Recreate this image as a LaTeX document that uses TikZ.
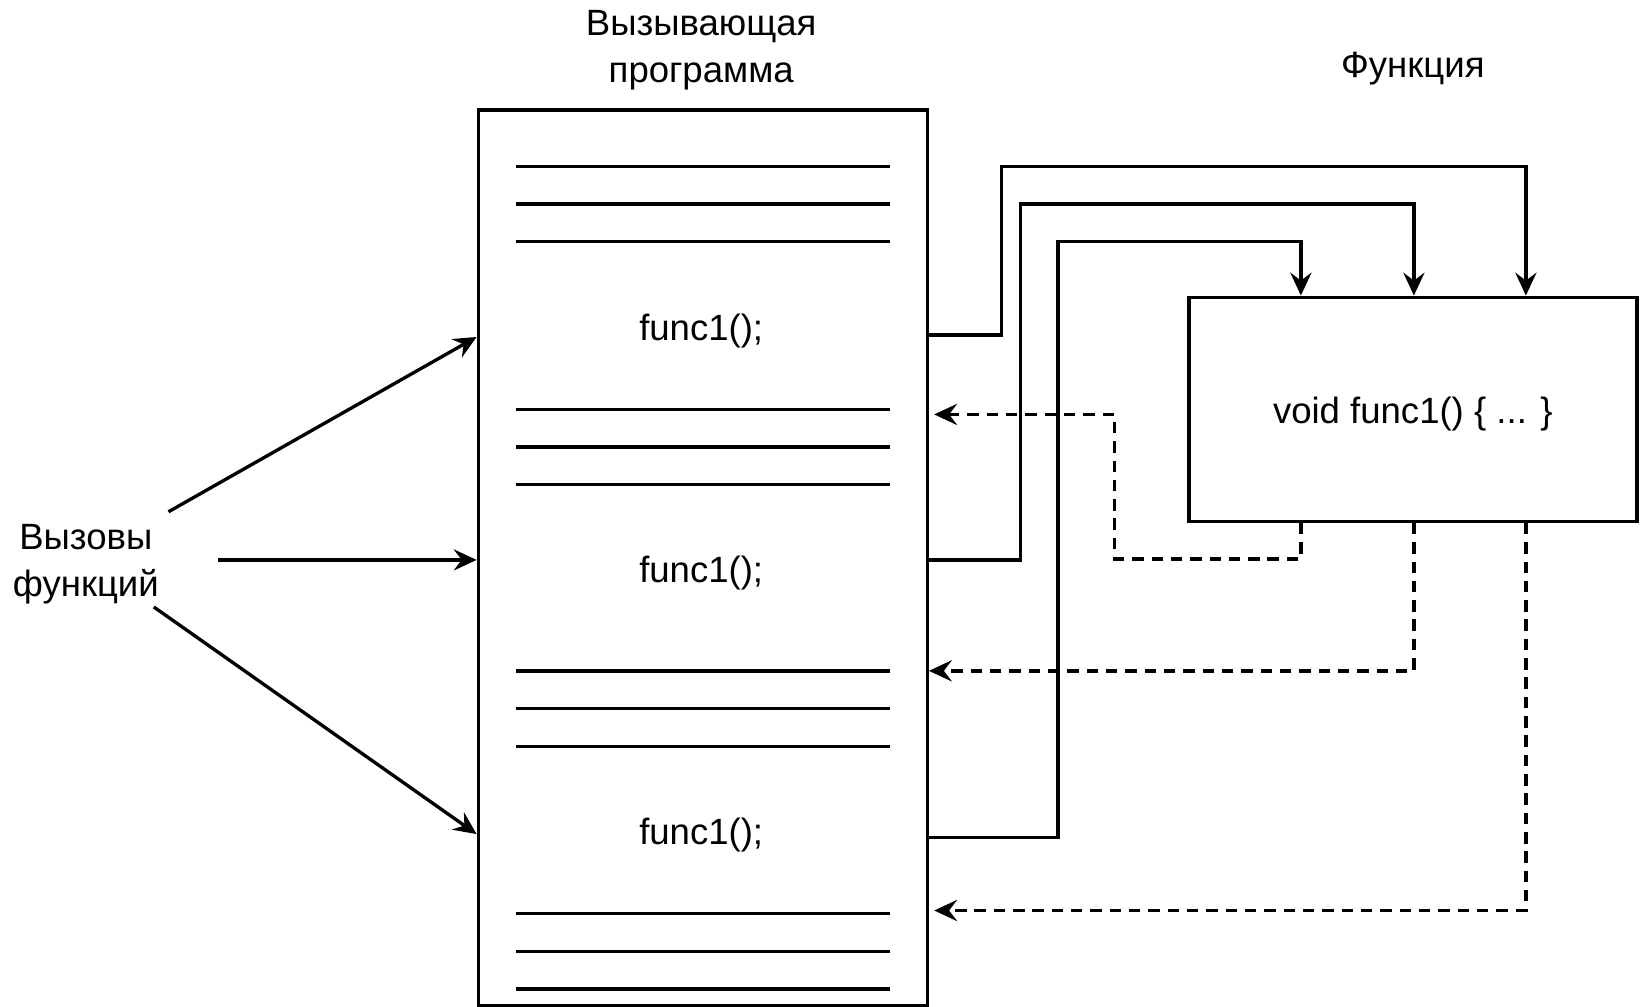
\documentclass[tikz,border=0pt]{standalone}
\usepackage{fontspec}
\setmainfont{Liberation Sans}
\usetikzlibrary{arrows.meta,fit}
\begin{document}
\begin{tikzpicture}[x=0.020932cm,y=-0.020932cm,
  box/.style={draw,line width=1.9pt,inner sep=0pt},
  txt/.style={font=\fontsize{20.8}{27}\selectfont,align=center,inner sep=0pt},
  rule/.style={line width=1.9pt},
  conn/.style={line width=1.9pt,-{Stealth[length=13pt,width=12pt,inset=4.5pt]}},
  ret/.style={conn,dash pattern=on 6.5pt off 4.5pt}]
\useasboundingbox (0,0) rectangle (1568,962);
\fill[white] (0,0) rectangle (1568,962);
% main program box
\coordinate (p1) at (457,105); \coordinate (p2) at (886,961);
\node[box,fit=(p1)(p2)] (prog) {};
% function box
\coordinate (f1) at (1136,284); \coordinate (f2) at (1564,498);
\node[box,fit=(f1)(f2)] (func) {};
% texts
\node[txt] (title) at (670,48) {Вызывающая\\программа};
\node[txt] (ftitle) at (1350,66) {Функция};
\node[txt] (c1) at (670,316) {func1();};
\node[txt] (c2) at (670,548) {func1();};
\node[txt] (c3) at (670,798) {func1();};
\node[txt] (fbody) at (1350,396) {void func1() \{ ... \}};
\node[txt] (calls) at (82,539) {Вызовы\\функций};
% code lines
\foreach \yy in {159,195,231,391,427,463,641,677,713,873,909,945}
  \draw[rule] (493,\yy) -- (850,\yy);
% calls arrows
\coordinate (s1) at (161,489);
\coordinate (s2) at (208,535);
\coordinate (s3) at (147,580);
\draw[conn] (s1) -- (prog.west |- 0,322);
\draw[conn] (s2) -- (prog.west |- 0,535);
\draw[conn] (s3) -- (prog.west |- 0,797);
% call connectors
\draw[conn] (prog.east |- 0,320) -| (957,159) -| (func.north -| 1458,0);
\draw[conn] (prog.east |- 0,535) -| (975,195) -| (func.north -| 1351,0);
\draw[conn] (prog.east |- 0,800) -| (1011,231) -| (func.north -| 1243,0);
% returns
\draw[ret] (func.south -| 1243,0) |- (1065,534) |- ([xshift=3pt]prog.east |- 0,396);
\draw[ret] (func.south -| 1351,0) |- (prog.east |- 0,641);
\draw[ret] (func.south -| 1458,0) |- ([xshift=3pt]prog.east |- 0,870);
\end{tikzpicture}
\end{document}
